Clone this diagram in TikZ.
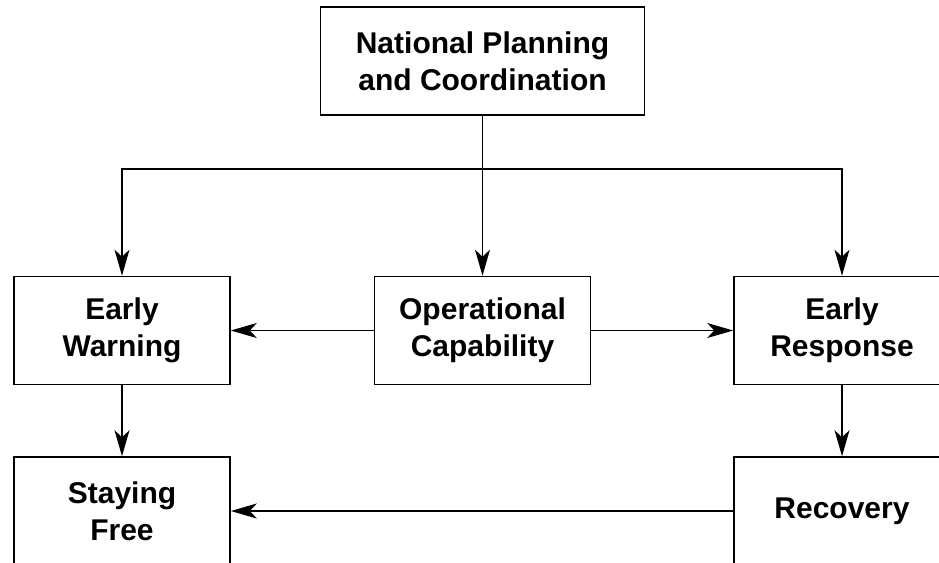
\documentclass[tikz,border=0pt]{standalone}
\usepackage{fontspec}
\newfontfamily\hvfont{Liberation Sans}
\usetikzlibrary{arrows.meta}
\begin{document}
\begin{tikzpicture}[x=1pt,y=1pt,
  box/.style={draw=black, line width=1.6pt, fill=white, minimum width=216pt, minimum height=108pt,
    inner sep=0pt, align=center, font=\hvfont\bfseries\fontsize{30}{37}\selectfont},
  conn/.style={draw=black, line width=1.6pt},
  arr/.style={conn, -{Stealth[length=26pt, width=15pt, inset=7pt]}}]
\useasboundingbox (0,0) rectangle (939,-562);
\begin{scope}
\clip (0,0) rectangle (939,-562);
\node[box, minimum width=324pt] (top) at (482.5,-61) {National Planning\\and Coordination};
\node[box] (ew) at (122,-330.5) {Early\\Warning};
\node[box] (oc) at (482.5,-330.5) {Operational\\Capability};
\node[box] (er) at (842,-330.5) {Early\\Response};
\node[box] (sf) at (122,-511) {Staying\\Free};
\node[box] (rc) at (842,-511) {Recovery};
\coordinate (j) at (482.5,-169);
\draw[conn] (top.south) -- (j);
\draw[arr] (j) -| (ew.north);
\draw[arr] (j) -- (oc.north);
\draw[arr] (j) -| (er.north);
\draw[arr] (oc.west) -- (ew.east);
\draw[arr] (oc.east) -- (er.west);
\draw[arr] (ew.south) -- (sf.north);
\draw[arr] (er.south) -- (rc.north);
\draw[arr] (rc.west) -- (sf.east);
\end{scope}
\end{tikzpicture}
\end{document}
